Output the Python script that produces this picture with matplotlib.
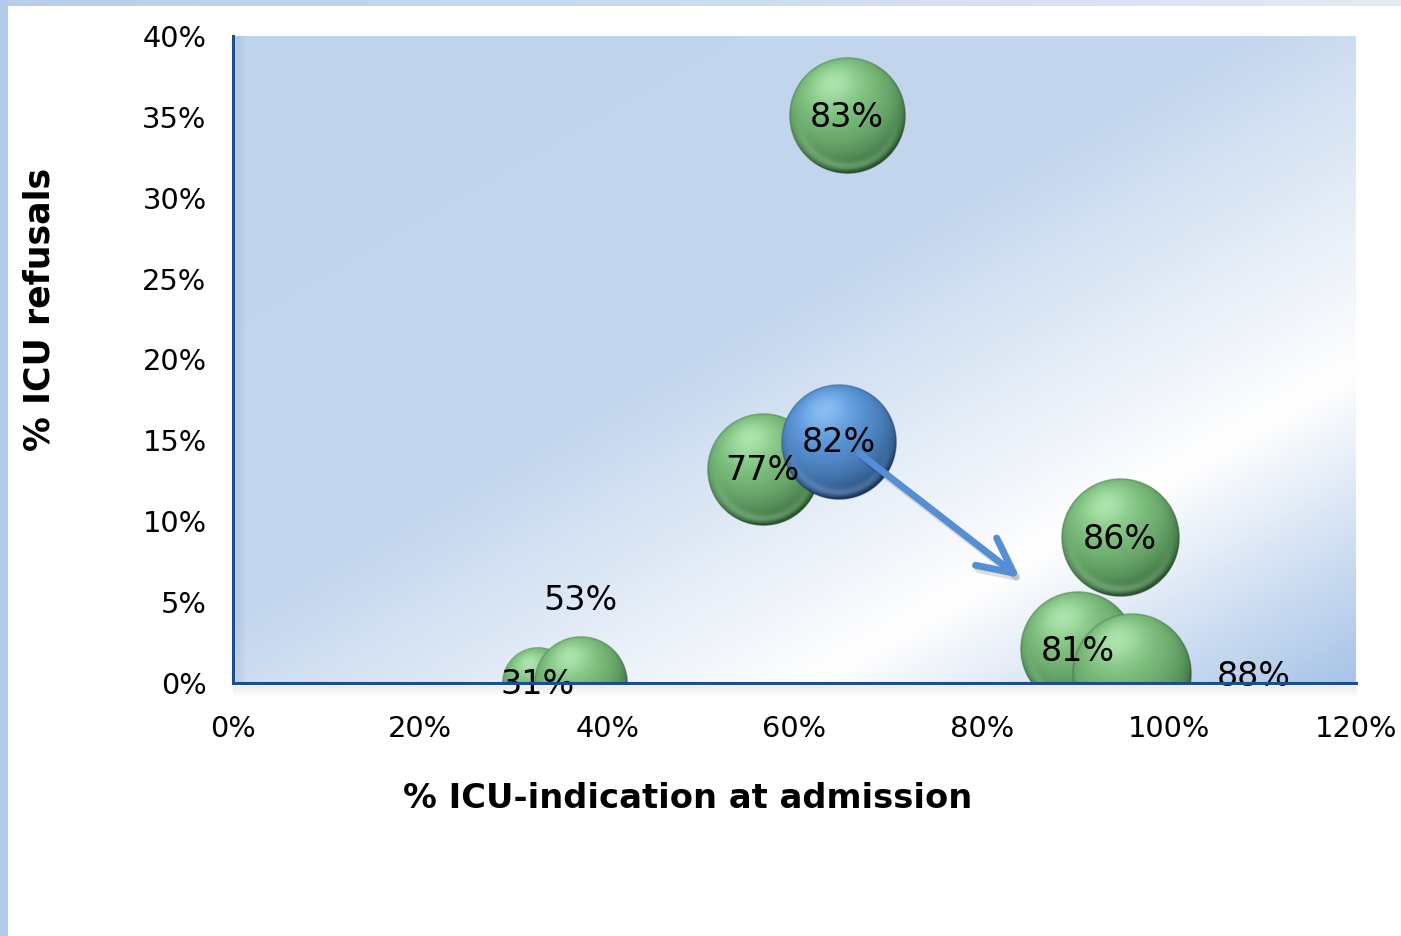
import numpy as np
import matplotlib
matplotlib.use("Agg")
import matplotlib.pyplot as plt
import matplotlib.patheffects as pe
from matplotlib.colors import LinearSegmentedColormap
from matplotlib.patches import FancyArrowPatch, Rectangle
from matplotlib.ticker import PercentFormatter, MultipleLocator

plt.rcParams["font.family"] = ["DejaVu Sans"]

# bubble data: x = ICU indication at admission, y = ICU refusals, size = bubble label
icu_indication = [0.325, 0.371, 0.566, 0.903, 0.647, 0.656, 0.948, 0.961]
icu_refusals = [0.000, 0.000, 0.132, 0.021, 0.149, 0.351, 0.090, 0.006]
bubble_size = [31, 53, 77, 81, 82, 83, 86, 88]
highlighted = [False, False, False, False, True, False, False, False]

# label offsets in pixels from the bubble centre
label_dx = [0, 0, 0, 0, 0, 0, 0, 121]
label_dy = [-2, 83, -1, -2, -1, -2, -2, -3]

arrow_start = (0.667, 0.143)
arrow_end = (0.843, 0.064)

MAX_R_PX = 60.0

fig = plt.figure(figsize=(14.01, 9.36), dpi=100)
fig.patch.set_facecolor("white")

# slide frame strips
fig.patches.append(Rectangle((0, 0), 8 / 1401, 1, transform=fig.transFigure,
                             facecolor="#B4CCEA", edgecolor="none", zorder=0))
top_strip = np.linspace(0, 1, 256).reshape(1, -1)
strip_cmap = LinearSegmentedColormap.from_list("strip", ["#B8CDEA", "#E2EAF5"])
strip_ax = fig.add_axes([0, 1 - 6 / 936, 1, 6 / 936])
strip_ax.imshow(top_strip, aspect="auto", cmap=strip_cmap)
strip_ax.axis("off")

ax = fig.add_axes([233 / 1401, 1 - 683 / 936, (1356 - 233) / 1401, (683 - 36) / 936])
ax.set_xlim(0, 1.2)
ax.set_ylim(0, 0.4)

# plot area gradient fill, running from top-left to bottom-right
ny, nx = 300, 500
u = np.linspace(0, 1, nx)[None, :]
v = np.linspace(0, 1, ny)[:, None]
t = (u + v) / 2
bg_cmap = LinearSegmentedColormap.from_list(
    "bg", [(0.0, "#C0D4ED"), (0.45, "#C3D6EE"), (0.76, "#FFFFFF"), (1.0, "#A8C4E8")])
ax.imshow(t, extent=(0, 1.2, 0, 0.4), aspect="auto", cmap=bg_cmap,
          vmin=0, vmax=1, zorder=0, interpolation="bilinear")


def sphere(base, dark, light, n=240):
    g = np.linspace(-1, 1, n)
    xx, yy = np.meshgrid(g, -g)
    r = np.sqrt(xx ** 2 + yy ** 2)
    z = np.sqrt(np.clip(1 - r ** 2, 0, 1))
    lx, ly, lz = -0.25, 0.55, 0.80
    ln = np.sqrt(lx ** 2 + ly ** 2 + lz ** 2)
    ndl = (xx * lx + yy * ly + z * lz) / ln
    wrap = np.clip((ndl + 0.3) / 1.3, 0, 1) ** 0.7
    base, dark, light = (np.array(c) / 255 for c in (base, dark, light))
    col = dark + (base - dark) * wrap[..., None]
    spec = np.clip(ndl, 0, 1) ** 12 * 0.6
    col = col + (light - col) * spec[..., None]
    # soft reflected light along the lower rim
    rim = np.clip(-yy, 0, 1) * np.exp(-((r - 0.87) / 0.07) ** 2) * 0.35
    col = col + (light - col) * rim[..., None]
    # thin darker edge
    edge = np.exp(-((r - 1.0) / 0.02) ** 2) * 0.25
    col = col * (1 - edge[..., None])
    alpha = np.clip((1 - r) * n / 2, 0, 1)
    return np.dstack([np.clip(col, 0, 1), alpha])


green_img = sphere((132, 200, 132), (34, 80, 40), (200, 246, 200))
blue_img = sphere((96, 158, 226), (22, 50, 90), (165, 210, 250))

fig.canvas.draw()
px_x = ax.transData.transform((1, 0))[0] - ax.transData.transform((0, 0))[0]
px_y = ax.transData.transform((0, 1))[1] - ax.transData.transform((0, 0))[1]

order = np.argsort(bubble_size, kind="stable")
for k, i in enumerate(order):
    r_px = MAX_R_PX * np.sqrt(bubble_size[i] / max(bubble_size))
    hx, hy = r_px / px_x, r_px / px_y
    cx, cy = icu_indication[i], icu_refusals[i]
    img = blue_img if highlighted[i] else green_img
    ax.imshow(img, extent=(cx - hx, cx + hx, cy - hy, cy + hy),
              aspect="auto", zorder=2 + k, interpolation="bilinear")

for i in range(len(bubble_size)):
    ax.annotate(f"{bubble_size[i]}%", (icu_indication[i], icu_refusals[i]),
                xytext=(label_dx[i] * 0.72, label_dy[i] * 0.72),
                textcoords="offset points", ha="center", va="center",
                fontsize=24, color="black", zorder=20, annotation_clip=False)

arrow = FancyArrowPatch(arrow_start, arrow_end,
                        arrowstyle="->,head_length=1.25,head_width=0.62",
                        mutation_scale=20, color="#558ED5", lw=5,
                        capstyle="round", joinstyle="round", zorder=15)
arrow.set_path_effects([pe.SimpleLineShadow(offset=(2, -3), shadow_color="k", alpha=0.12),
                        pe.Normal()])
ax.add_patch(arrow)

ax.set_xlim(0, 1.2)
ax.set_ylim(0, 0.4)
ax.xaxis.set_major_locator(MultipleLocator(0.2))
ax.yaxis.set_major_locator(MultipleLocator(0.05))
ax.xaxis.set_major_formatter(PercentFormatter(1.0, decimals=0))
ax.yaxis.set_major_formatter(PercentFormatter(1.0, decimals=0))
ax.tick_params(axis="both", length=0, labelsize=20.8, colors="black")
ax.tick_params(axis="x", pad=23)
ax.tick_params(axis="y", pad=19)

for side in ("top", "right"):
    ax.spines[side].set_visible(False)
for side in ("left", "bottom"):
    ax.spines[side].set_color("#1B4F8C")
    ax.spines[side].set_linewidth(2.2)
    ax.spines[side].set_zorder(30)

# soft shadow along the axis lines
for j in range(10):
    a = 0.09 * (1 - j / 10)
    ax.plot([0.003 + j * 0.0009, 0.003 + j * 0.0009], [0, 1], transform=ax.transAxes,
            color="#5A6E8A", alpha=a, lw=1, zorder=25, clip_on=False)
    ax.plot([0, 1], [-0.004 - j * 0.0016, -0.004 - j * 0.0016], transform=ax.transAxes,
            color="#707070", alpha=a, lw=1, zorder=1, clip_on=False)

ax.set_xlabel("% ICU-indication at admission", fontsize=24.3, fontweight="bold", va="center")
ax.set_ylabel("% ICU refusals", fontsize=25, fontweight="bold", va="center")
ax.xaxis.set_label_coords((688 - 233) / 1123, (683 - 799) / 647)
ax.yaxis.set_label_coords((40 - 233) / 1123, (683 - 309) / 647)

fig.savefig("out.png", dpi=100)
